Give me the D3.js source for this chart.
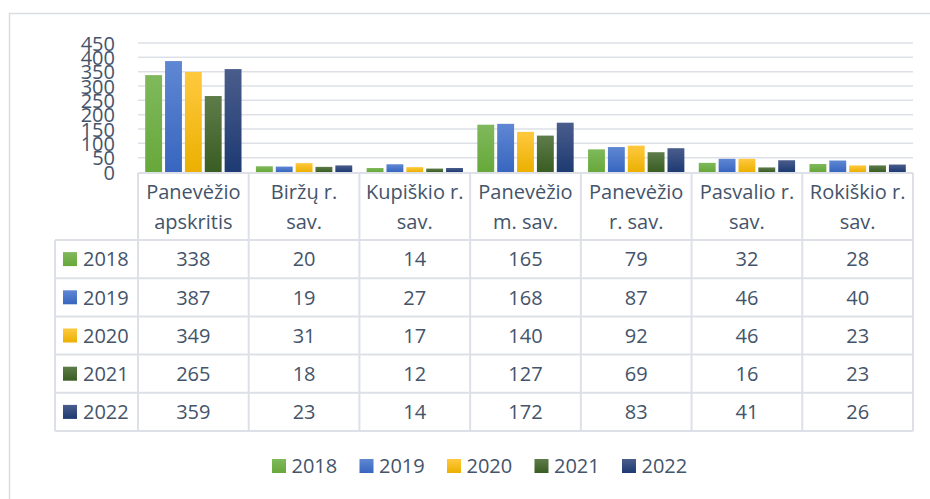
<!DOCTYPE html>
<html><head><meta charset="utf-8">
<script src="https://cdn.jsdelivr.net/npm/d3@7/dist/d3.min.js"></script>
<style>
html,body{margin:0;padding:0;background:#fff;}
svg{display:block;font-family:"Open Sans",sans-serif;}
</style></head>
<body>
<svg id="c" width="930" height="499"></svg>
<script>
const categories = [["Panevėžio","apskritis"],["Biržų r.","sav."],["Kupiškio r.","sav."],["Panevėžio","m. sav."],["Panevėžio","r. sav."],["Pasvalio r.","sav."],["Rokiškio r.","sav."]];
const years = ["2018","2019","2020","2021","2022"];
const v2018 = [338,20,14,165,79,32,28];
const v2019 = [387,19,27,168,87,46,40];
const v2020 = [349,31,17,140,92,46,23];
const v2021 = [265,18,12,127,69,16,23];
const v2022 = [359,23,14,172,83,41,26];
const yTicks = [0,50,100,150,200,250,300,350,400,450];
const seriesValues = [v2018,v2019,v2020,v2021,v2022];
const colors = [["#7fb95c","#67a83a"],["#5f87d3","#3866bf"],["#ffc93f","#ebb000"],["#5e7c4a","#395d22"],["#4a5d8c","#1d3a72"]];

(function(){
const svg = d3.select("#c");
const textColor = "#44546A";
const lineColor = "#dde1e7";
const fs = 20;

const defs = svg.append("defs");
colors.forEach((c,i)=>{
  const g = defs.append("linearGradient").attr("id","g"+i).attr("x1",0).attr("y1",0).attr("x2",0).attr("y2",1);
  g.append("stop").attr("offset","0%").attr("stop-color",c[0]);
  g.append("stop").attr("offset","100%").attr("stop-color",c[1]);
});

svg.append("rect").attr("x",9.5).attr("y",13.5).attr("width",940).attr("height",500)
  .attr("fill","none").attr("stroke","#d9dde3").attr("stroke-width",1.5);

const pLeft = 138, pRight = 913, pTop = 43, pBottom = 172;
const x0 = d3.scaleBand().domain(d3.range(categories.length)).range([pLeft,pRight]).paddingInner(0.13).paddingOuter(0.065);
const x1 = d3.scaleBand().domain(d3.range(years.length)).range([0,x0.bandwidth()]).paddingInner(0.15).paddingOuter(0);
const y = d3.scaleLinear().domain([0,450]).range([pBottom,pTop]);
const colX = d3.scaleBand().domain(d3.range(categories.length)).range([pLeft,pRight]);

svg.append("g").selectAll("line").data(yTicks.filter(d=>d>0)).join("line")
  .attr("x1",pLeft).attr("x2",pRight).attr("y1",d=>y(d)).attr("y2",d=>y(d))
  .attr("stroke",lineColor).attr("stroke-width",1.5);

const yAxis = d3.axisLeft(y).tickValues(yTicks).tickSize(0).tickPadding(0);
const ya = svg.append("g").attr("transform","translate(115,0)").call(yAxis);
ya.select(".domain").remove();
ya.selectAll("text").attr("font-size",fs).attr("fill",textColor).attr("font-family","Open Sans").attr("dy","0.36em");

years.forEach((yr,si)=>{
  svg.append("g").selectAll("rect").data(seriesValues[si]).join("rect")
    .attr("x",(d,i)=>x0(i)+x1(si))
    .attr("width",x1.bandwidth())
    .attr("y",d=>y(d))
    .attr("height",d=>pBottom-y(d))
    .attr("fill","url(#g"+si+")");
});

const rowTop = 240, rowH = 38.2, tableLeft = 55;
const tableBottom = rowTop + rowH*years.length;
const tl = svg.append("g").attr("stroke",lineColor).attr("stroke-width",2);
tl.append("line").attr("x1",pLeft).attr("x2",pRight).attr("y1",pBottom+1).attr("y2",pBottom+1);
d3.range(years.length+1).forEach(r=>{
  tl.append("line").attr("x1",tableLeft).attr("x2",pRight).attr("y1",rowTop+r*rowH).attr("y2",rowTop+r*rowH);
});
d3.range(categories.length+1).forEach(c=>{
  const xx = c<categories.length ? colX(c) : pRight;
  tl.append("line").attr("x1",xx).attr("x2",xx).attr("y1",pBottom+1).attr("y2",tableBottom);
});
tl.append("line").attr("x1",tableLeft).attr("x2",tableLeft).attr("y1",rowTop).attr("y2",tableBottom);

categories.forEach((lines,i)=>{
  const t = svg.append("text").attr("x",colX(i)+colX.bandwidth()/2).attr("text-anchor","middle")
    .attr("font-size",fs).attr("fill",textColor);
  lines.forEach((l,k)=>t.append("tspan").attr("x",colX(i)+colX.bandwidth()/2).attr("y",199+k*29.5).text(l));
});

years.forEach((yr,si)=>{
  const cy = rowTop + rowH*si + rowH/2;
  svg.append("rect").attr("x",63).attr("y",cy-7).attr("width",14).attr("height",14).attr("fill","url(#g"+si+")");
  svg.append("text").attr("x",83).attr("y",cy).attr("dy","0.36em").attr("font-size",fs).attr("fill",textColor).text(yr);
  svg.append("g").selectAll("text").data(seriesValues[si]).join("text")
    .attr("x",(d,i)=>colX(i)+colX.bandwidth()/2).attr("y",cy).attr("dy","0.36em")
    .attr("text-anchor","middle").attr("font-size",fs).attr("fill",textColor).text(d=>d);
});

const legX = d3.scaleLinear().domain([0,4]).range([272,622]);
years.forEach((yr,si)=>{
  const lx = legX(si), ly = 466;
  svg.append("rect").attr("x",lx).attr("y",ly-7).attr("width",14).attr("height",14).attr("fill","url(#g"+si+")");
  svg.append("text").attr("x",lx+19.5).attr("y",ly).attr("dy","0.36em").attr("font-size",fs).attr("fill",textColor).text(yr);
});
})();
</script>
</body></html>
